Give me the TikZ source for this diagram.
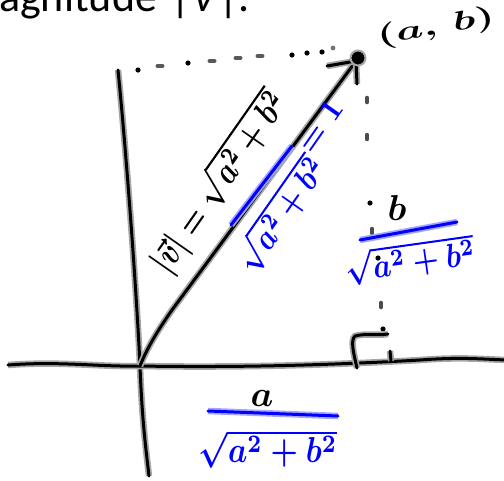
\documentclass[tikz,border=0pt]{standalone}
\usepackage{fontspec}
\setmainfont{Carlito}
\begin{document}
\begin{tikzpicture}[x=1pt,y=-1pt,
  pen/.style={line width=3pt, black, line cap=round, line join=round, preaction={draw=black!35, line width=6.5pt}},
  bpen/.style={line width=3pt, blue, line cap=round, line join=round, preaction={draw=blue!35, line width=6.5pt}},
  ink/.style={inner sep=0pt, text=black, font=\boldmath},
  bink/.style={inner sep=0pt, text=blue, font=\boldmath},
  dotfill/.style={fill=black},
]
\useasboundingbox (0,0) rectangle (504,480);

\node[anchor=base west, inner sep=0pt, font=\fontsize{44}{50}\selectfont] (title) at (-1,11) {agnitude\hspace{0.3em}|\kern0.08em\textit{v}\kern0.08em|.};

% axes
\coordinate (ytop) at (118,70);
\coordinate (ybot) at (149,476);
\coordinate (xl) at (8,365);
\coordinate (xr) at (506,360);
\coordinate (O) at (140,366);
\coordinate (bend) at (172,310);
\coordinate (tip) at (356,61);
\coordinate (hl) at (327,66);
\coordinate (hd) at (357,84);

\draw[pen] (ytop) .. controls (127,160) and (137,300) .. (O) .. controls (142,420) and (146,450) .. (ybot);
\draw[pen] (xl) .. controls (60,361) and (100,367) .. (O) .. controls (250,368) and (350,364) .. (420,360) .. controls (460,357) and (480,359) .. (xr);

% dotted guide lines
\foreach \x/\y in {138/70,188/63,292/55,307/53,322/52}
  \fill[dotfill] (\x,\y) circle (2.6pt);
\foreach \x/\y in {160/66,212/61,238/58,260/56}
  \draw[line width=4pt, black!65, line cap=round] (\x-2.5,\y) -- (\x+2.5,\y);
\fill[black!55] (333,48) circle (2.4pt);
\foreach \x/\y in {370/203,378/258,383/329}
  \fill[dotfill] (\x,\y) circle (2.6pt);
\foreach \x/\y in {367/100,367/137,381/305,372/231}
  \draw[line width=3.5pt, black!70, line cap=round] (\x,\y-2.5) -- (\x,\y+2.5);

% right angle mark
\coordinate (ra1) at (357,368);
\coordinate (ra2) at (388,334);
\draw[pen] (ra1) .. controls (354,355) and (350,340) .. (355,336) .. controls (366,333) and (376,336) .. (ra2);
\coordinate (tk1) at (390,351);
\coordinate (tk2) at (391,361);
\draw[pen] (tk1) -- (tk2);

% vector
\draw[pen] (O) .. controls (147,348) and (158,330) .. (bend) -- (tip);
\draw[pen] (hl) -- (tip) -- (hd);
\node[circle, fill=black, draw=black!35, line width=2pt, minimum size=15pt, inner sep=0pt] (P) at (358,58) {};
\node[ink, rotate=10, scale=2.7] (ablabel) at (436,28) {\scalebox{1.6}[1]{$(a,\,b)$}};

% magnitude along vector
\node[ink, rotate=55, scale=3.6] (vlen) at (219,182) {\scalebox{0.8}[1]{$|\vec{v}| = \sqrt{a^2+b^2}$}};
\coordinate (fb1) at (231,225);
\coordinate (fb2) at (292,146);
\draw[bpen] (fb1) -- (fb2);
\node[bink, rotate=55, scale=3.2] (eqone) at (320,126) {$=1$};
\node[bink, rotate=55, scale=3.4] (den1) at (280,214) {\scalebox{0.85}[1]{$\sqrt{a^2+b^2}$}};

% b over sqrt
\node[ink, scale=3.6] (bnum) at (397,208) {$b$};
\coordinate (bb1) at (360,240);
\coordinate (bb2) at (457,222);
\draw[bpen] (bb1) -- (bb2);
\node[bink, rotate=8, scale=3.4] (den2) at (410,260) {\scalebox{0.85}[1]{$\sqrt{a^2+b^2}$}};

% a over sqrt
\node[ink, scale=3.6] (anum) at (262,398) {$a$};
\coordinate (ab1) at (208,411);
\coordinate (ab2) at (338,416);
\draw[bpen] (ab1) -- (ab2);
\node[bink, scale=3.6] (den3) at (268,449) {\scalebox{0.85}[1]{$\sqrt{a^2+b^2}$}};
\end{tikzpicture}
\end{document}
